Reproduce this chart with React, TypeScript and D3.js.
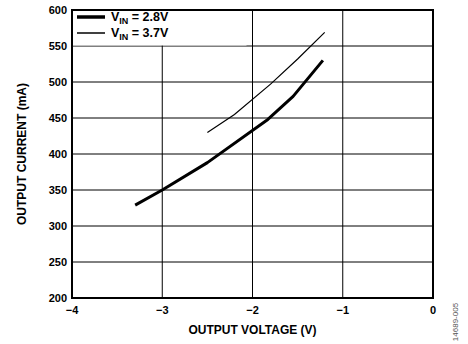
import React, { useEffect, useRef } from 'react';
import * as d3 from 'd3';

// series
const vin28X = [-3.3, -3.0, -2.5, -1.83, -1.55, -1.22];
const vin28Y = [329, 350, 388, 448, 480, 530];
const vin37X = [-2.5, -2.2, -1.8, -1.5, -1.2];
const vin37Y = [430, 455, 497, 532, 569];
const xTicks = [-4, -3, -2, -1, 0];
const yTicks = [200, 250, 300, 350, 400, 450, 500, 550, 600];

const FONT = '"Liberation Sans", Arial, sans-serif';

const App = () => {
  const ref = useRef<SVGSVGElement | null>(null);

  useEffect(() => {
    if (!ref.current) return;
    const svg = d3.select(ref.current);
    svg.selectAll('*').remove();

    const left = 72, right = 433, top = 10, bottom = 298;
    const x = d3.scaleLinear().domain([-4, 0]).range([left, right]);
    const y = d3.scaleLinear().domain([200, 600]).range([bottom, top]);

    svg.append('rect').attr('width', 468).attr('height', 344).attr('fill', '#fff');

    // grid
    const grid = svg.append('g').attr('stroke', '#000').attr('stroke-width', 1);
    grid
      .selectAll('line.v')
      .data(xTicks.slice(1, -1))
      .enter()
      .append('line')
      .attr('x1', (d) => x(d))
      .attr('x2', (d) => x(d))
      .attr('y1', top)
      .attr('y2', bottom);
    grid
      .selectAll('line.h')
      .data(yTicks.slice(1, -1))
      .enter()
      .append('line')
      .attr('x1', left)
      .attr('x2', right)
      .attr('y1', (d) => y(d))
      .attr('y2', (d) => y(d));

    // legend background hides grid above 550
    svg
      .append('rect')
      .attr('x', left)
      .attr('y', top)
      .attr('width', x(-2) - left - 6)
      .attr('height', y(550) - top - 0.5)
      .attr('fill', '#fff');

    // frame
    svg
      .append('rect')
      .attr('x', left)
      .attr('y', top)
      .attr('width', right - left)
      .attr('height', bottom - top)
      .attr('fill', 'none')
      .attr('stroke', '#000')
      .attr('stroke-width', 2);

    const line = d3
      .line<[number, number]>()
      .x((d) => x(d[0]))
      .y((d) => y(d[1]));

    svg
      .append('path')
      .datum(d3.zip(vin28X, vin28Y) as [number, number][])
      .attr('d', line)
      .attr('fill', 'none')
      .attr('stroke', '#000')
      .attr('stroke-width', 3)
      .attr('stroke-linejoin', 'round');

    svg
      .append('path')
      .datum(d3.zip(vin37X, vin37Y) as [number, number][])
      .attr('d', line)
      .attr('fill', 'none')
      .attr('stroke', '#000')
      .attr('stroke-width', 1.2);

    // legend
    const legend = [
      { label: '2.8V', w: 3.5, yy: 17 },
      { label: '3.7V', w: 1.5, yy: 33 },
    ];
    legend.forEach((l) => {
      svg
        .append('line')
        .attr('x1', 77)
        .attr('x2', 105)
        .attr('y1', l.yy)
        .attr('y2', l.yy)
        .attr('stroke', '#000')
        .attr('stroke-width', l.w);
      const t = svg
        .append('text')
        .attr('x', 111)
        .attr('y', l.yy + 4)
        .attr('font-family', FONT)
        .attr('font-weight', 'bold')
        .attr('font-size', 12.5)
        .attr('fill', '#000');
      t.append('tspan').text('V');
      t.append('tspan').attr('dy', 3).attr('font-size', 9).text('IN');
      t.append('tspan').attr('dy', -3).text(` = ${l.label}`);
    });

    // tick labels
    svg
      .selectAll('text.yt')
      .data(yTicks)
      .enter()
      .append('text')
      .attr('x', 67)
      .attr('y', (d) => y(d) + 4)
      .attr('text-anchor', 'end')
      .attr('font-family', FONT)
      .attr('font-weight', 'bold')
      .attr('font-size', 11)
      .text((d) => d);

    svg
      .selectAll('text.xt')
      .data(xTicks)
      .enter()
      .append('text')
      .attr('x', (d) => x(d))
      .attr('y', 314)
      .attr('text-anchor', 'middle')
      .attr('font-family', FONT)
      .attr('font-weight', 'bold')
      .attr('font-size', 11)
      .text((d) => (d < 0 ? `\u2212${Math.abs(d)}` : `${d}`));

    // axis titles
    svg
      .append('text')
      .attr('x', (left + right) / 2)
      .attr('y', 334)
      .attr('text-anchor', 'middle')
      .attr('font-family', FONT)
      .attr('font-weight', 'bold')
      .attr('font-size', 12)
      .text('OUTPUT VOLTAGE (V)');

    svg
      .append('text')
      .attr('transform', `translate(26,${(top + bottom) / 2}) rotate(-90)`)
      .attr('text-anchor', 'middle')
      .attr('font-family', FONT)
      .attr('font-weight', 'bold')
      .attr('font-size', 12)
      .text('OUTPUT CURRENT (mA)');

    svg
      .append('text')
      .attr('transform', 'translate(458,322) rotate(-90)')
      .attr('text-anchor', 'middle')
      .attr('font-family', FONT)
      .attr('font-size', 8)
      .attr('fill', '#555')
      .text('14689-005');
  }, []);

  return (
    <svg
      ref={ref}
      width={468}
      height={344}
      style={{ position: 'absolute', left: 0, top: 0 }}
    />
  );
};

export default App;
